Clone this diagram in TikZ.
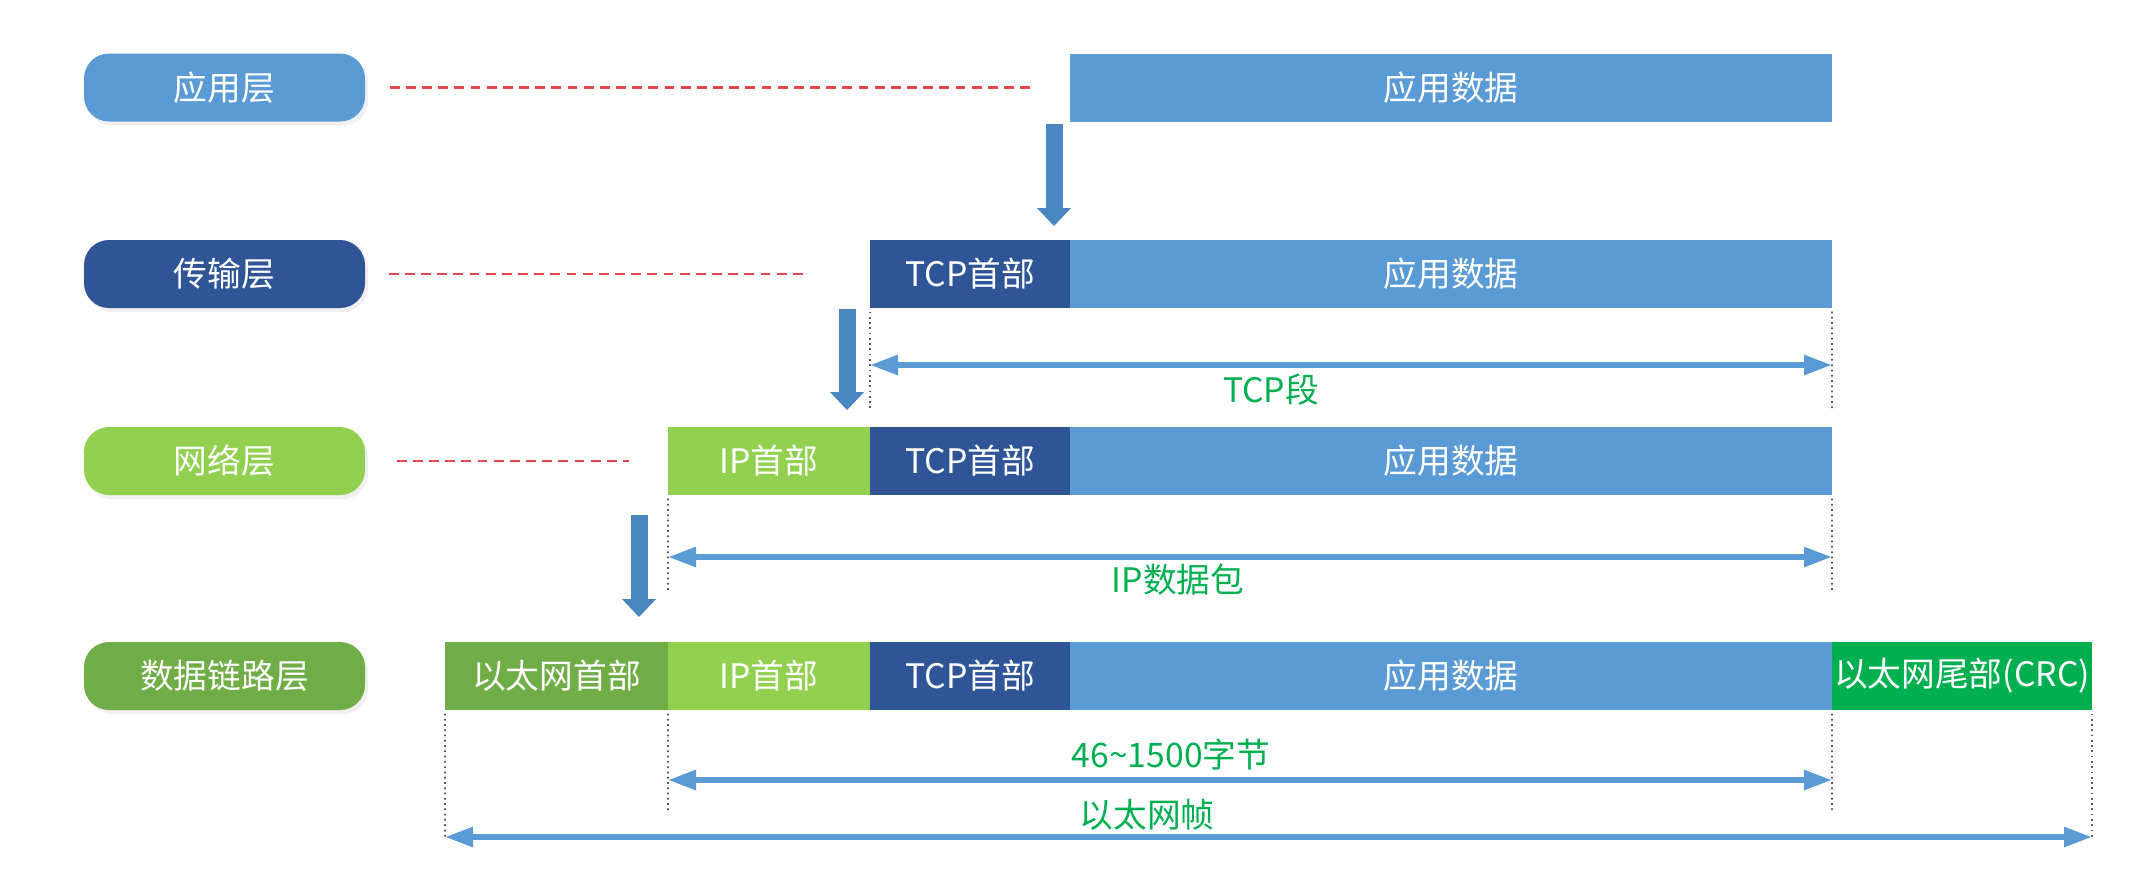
\documentclass[tikz,border=0pt]{standalone}
\usepackage{fontspec}
\setmainfont{Noto Sans CJK SC}
\usepackage{tikz}
\usetikzlibrary{arrows.meta,shadows}
\definecolor{appBlue}{HTML}{5B9BD5}
\definecolor{tcpBlue}{HTML}{2F5597}
\definecolor{ipGreen}{HTML}{92D050}
\definecolor{ethGreen}{HTML}{70AD47}
\definecolor{crcGreen}{HTML}{00B050}
\definecolor{pushBlue}{HTML}{4A86C1}
\definecolor{lineRed}{HTML}{E5464B}
\tikzset{
layer/.style = {rectangle, rounded corners=0.25cm, fill=#1, text=white,
                minimum width=2.81cm, minimum height=0.68cm, inner sep=0pt,
                font=\fontsize{9.6}{11}\selectfont,
                drop shadow={opacity=0.12, shadow xshift=0.03cm, shadow yshift=-0.04cm}}
}
\tikzset{
seg/.style 2 args = {rectangle, fill=#1, text=white, minimum width=#2,
                     minimum height=0.68cm, inner sep=0pt, outer sep=0pt,
                     font=\fontsize{9.6}{11}\selectfont}
}
\tikzset{
levelline/.style = {draw=lineRed, dashed, dash pattern=on 2.8pt off 1.8pt, line width=0.8pt},
encap/.style = {draw=pushBlue, line width=0.17cm, -{Triangle[width=0.33cm, length=0.18cm]}},
spanarrow/.style = {draw=appBlue, line width=0.057cm,
                    {Triangle[width=0.19cm, length=0.28cm]}-{Triangle[width=0.19cm, length=0.28cm]}},
vguide/.style = {draw=black!65, densely dotted, line width=0.5pt, shorten <=1pt},
lbl/.style = {text=crcGreen, inner sep=0pt, font=\fontsize{9.6}{11}\selectfont}
}

\begin{document}
\begin{tikzpicture}
\useasboundingbox (0,0) rectangle (21.44,-8.79);

% layers
\node[layer=appBlue] (appLayer) at (2.245,-0.875) {应用层};
\node[layer=tcpBlue] (tcpLayer) at (2.245,-2.74) {传输层};
\node[layer=ipGreen] (ipLayer) at (2.245,-4.61) {网络层};
\node[layer=ethGreen] (linkLayer) at (2.245,-6.76) {数据链路层};

% data units
\node[seg={appBlue}{7.62cm}] (appData1) at (14.51,-0.875) {应用数据};

\node[seg={tcpBlue}{2.00cm}] (tcpHdr2) at (9.70,-2.74) {TCP首部};
\node[seg={appBlue}{7.62cm}] (appData2) at (14.51,-2.74) {应用数据};

\node[seg={ipGreen}{2.02cm}] (ipHdr3) at (7.69,-4.61) {IP首部};
\node[seg={tcpBlue}{2.00cm}] (tcpHdr3) at (9.70,-4.61) {TCP首部};
\node[seg={appBlue}{7.62cm}] (appData3) at (14.51,-4.61) {应用数据};

\node[seg={ethGreen}{2.23cm}] (ethHdr4) at (5.565,-6.76) {以太网首部};
\node[seg={ipGreen}{2.02cm}] (ipHdr4) at (7.69,-6.76) {IP首部};
\node[seg={tcpBlue}{2.00cm}] (tcpHdr4) at (9.70,-6.76) {TCP首部};
\node[seg={appBlue}{7.62cm}] (appData4) at (14.51,-6.76) {应用数据};
\node[seg={crcGreen}{2.60cm}] (ethTail4) at (19.62,-6.76) {以太网尾部(CRC)};

\draw[levelline, shorten <=0.24cm, shorten >=0.40cm] (appLayer) -- (appData1);
\draw[levelline, shorten <=0.23cm, shorten >=0.61cm] (tcpLayer) -- (tcpHdr2);
\draw[levelline, shorten <=0.31cm, shorten >=0.39cm] (ipLayer) -- (ipHdr3);

% encapsulation arrows
\coordinate (push1s) at (10.54,-1.24);
\coordinate (push1e) at (10.54,-2.26);
\coordinate (push2s) at (8.47,-3.09);
\coordinate (push2e) at (8.47,-4.10);
\coordinate (push3s) at (6.39,-5.15);
\coordinate (push3e) at (6.39,-6.17);
\draw[encap] (push1s) -- (push1e);
\draw[encap] (push2s) -- (push2e);
\draw[encap] (push3s) -- (push3e);

% TCP segment
\coordinate (tcpSegL) at (8.70,-3.65);
\coordinate (tcpSegR) at (18.32,-3.65);
\coordinate (tcpGuideL) at (8.70,-4.08);
\coordinate (tcpGuideR) at (18.32,-4.08);
\draw[vguide] (tcpHdr2.south west) -- (tcpGuideL);
\draw[vguide] (appData2.south east) -- (tcpGuideR);
\draw[spanarrow] (tcpSegL) -- (tcpSegR);
\node[lbl] (tcpSegLbl) at (12.71,-3.90) {TCP段};

% IP packet
\coordinate (ipSegL) at (6.68,-5.57);
\coordinate (ipSegR) at (18.32,-5.57);
\coordinate (ipGuideL) at (6.68,-5.90);
\coordinate (ipGuideR) at (18.32,-5.90);
\draw[vguide] (ipHdr3.south west) -- (ipGuideL);
\draw[vguide] (appData3.south east) -- (ipGuideR);
\draw[spanarrow] (ipSegL) -- (ipSegR);
\node[lbl] (ipSegLbl) at (11.78,-5.80) {IP数据包};

% ethernet frame
\coordinate (payL) at (6.68,-7.80);
\coordinate (payR) at (18.32,-7.80);
\coordinate (payGuideL) at (6.68,-8.10);
\coordinate (payGuideR) at (18.32,-8.10);
\coordinate (frameL) at (4.45,-8.37);
\coordinate (frameR) at (20.92,-8.37);
\draw[vguide] (ipHdr4.south west) -- (payGuideL);
\draw[vguide] (appData4.south east) -- (payGuideR);
\draw[vguide] (ethHdr4.south west) -- (frameL);
\draw[vguide] (ethTail4.south east) -- (frameR);
\draw[spanarrow] (payL) -- (payR);
\draw[spanarrow] (frameL) -- (frameR);
\node[lbl] (payLbl) at (11.71,-7.55) {46\textasciitilde 1500字节};
\node[lbl] (frameLbl) at (11.47,-8.15) {以太网帧};
\end{tikzpicture}
\end{document}
